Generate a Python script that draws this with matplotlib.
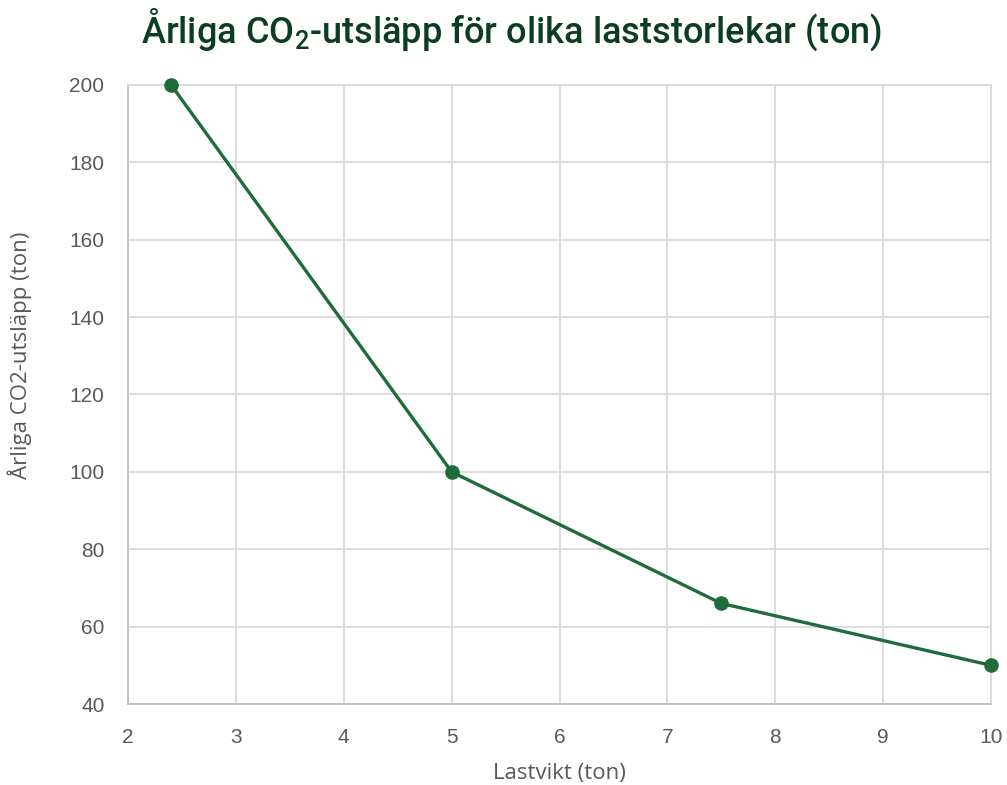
import matplotlib
matplotlib.use("Agg")
import matplotlib.pyplot as plt

plt.rcParams["mathtext.fontset"] = "custom"
plt.rcParams["mathtext.rm"] = "Roboto:medium"
plt.rcParams["mathtext.it"] = "Roboto:medium"

load_tons = [2.4, 5, 7.5, 10]
co2_tons = [200, 100, 66, 50]
x_ticks = [2, 3, 4, 5, 6, 7, 8, 9, 10]
y_ticks = [40, 60, 80, 100, 120, 140, 160, 180, 200]

title = r"Årliga CO$_\mathrm{2}$-utsläpp för olika laststorlekar (ton)"
xlabel = "Lastvikt (ton)"
ylabel = "Årliga CO2-utsläpp (ton)"

fig = plt.figure(figsize=(10.07, 7.85), dpi=100)
ax = fig.add_axes([128/1007, 81/785, (991-128)/1007, (704-85)/785])

line_color = "#1f6b3a"
grid_color = "#d9d9d9"
text_color = "#595959"

ax.plot(load_tons, co2_tons, color=line_color, linewidth=2.4, marker="o",
        markersize=9.5, zorder=3, clip_on=False)

ax.set_xlim(2, 10)
ax.set_ylim(40, 200)
ax.set_xticks(x_ticks)
ax.set_yticks(y_ticks)
ax.grid(True, color=grid_color, linewidth=1.3)
ax.set_axisbelow(True)
for side in ["top", "right"]:
    ax.spines[side].set_color(grid_color)
    ax.spines[side].set_linewidth(1.3)
for side in ["left", "bottom"]:
    ax.spines[side].set_color("#bfbfbf")
    ax.spines[side].set_linewidth(1.3)

ax.tick_params(axis="x", length=0, pad=17, labelsize=15, labelcolor=text_color)
ax.tick_params(axis="y", length=0, pad=17, labelsize=15, labelcolor=text_color)
for lab in ax.get_xticklabels() + ax.get_yticklabels():
    lab.set_family(["Liberation Sans", "DejaVu Sans"])

fig.text(559/1007, 1 - 773/785, xlabel, ha="center", va="center", fontsize=16,
         color=text_color, family=["Open Sans", "DejaVu Sans"])
fig.text(20/1007, 1 - 355/785, ylabel, ha="center", va="center", fontsize=16,
         rotation=90, color=text_color, family=["Open Sans", "DejaVu Sans"])

fig.text(512/1007, 1 - 30/785, title, ha="center", va="center", fontsize=26,
         color="#0b3d22", family=["Roboto", "DejaVu Sans"], fontweight="medium")

fig.savefig("out.png", dpi=100)
